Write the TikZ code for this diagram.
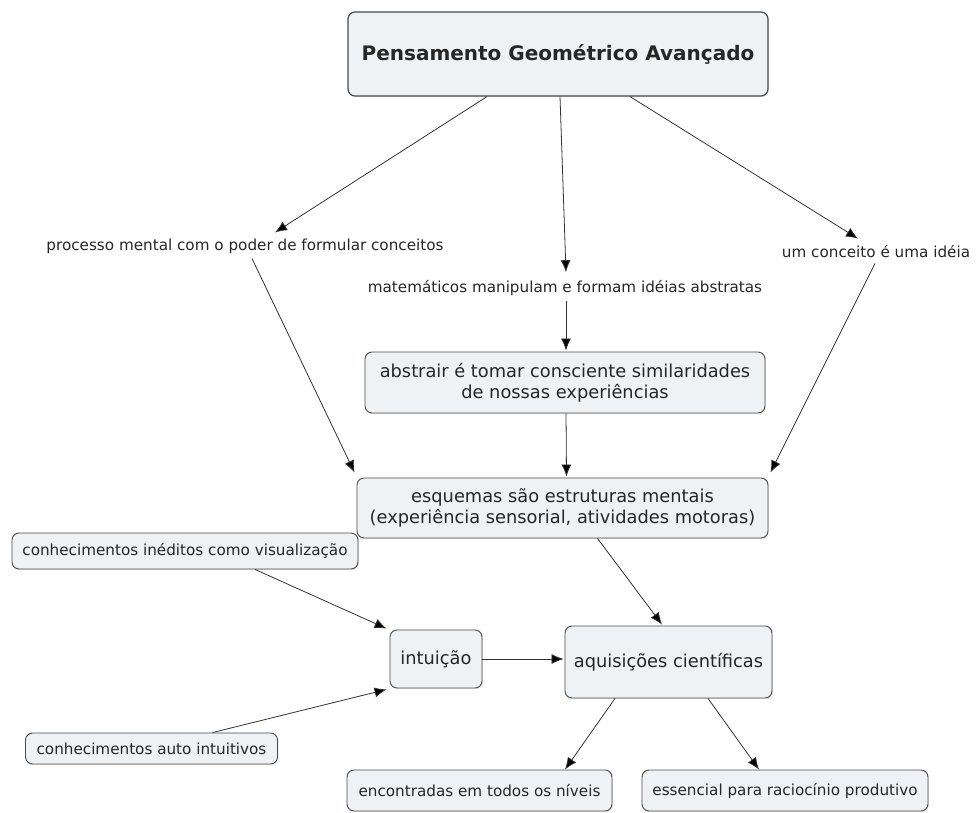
\documentclass[tikz,border=0pt]{standalone}
\usepackage{fontspec}
\setmainfont{DejaVu Sans}
\usetikzlibrary{arrows.meta,shadows}
\definecolor{boxfill}{HTML}{EEF2F5}
\definecolor{boxline}{HTML}{4A4A4A}
\definecolor{txt}{HTML}{262626}
\begin{document}
\begin{tikzpicture}[x=1pt,y=-1pt,
  cbox/.style={draw=boxline,line width=0.9pt,fill=boxfill,rounded corners=7pt,
    align=center,text=txt,inner sep=0pt,
    drop shadow={opacity=0.18,shadow xshift=1.2pt,shadow yshift=-1.2pt}},
  bigtxt/.style={font=\fontsize{17.8}{21.5}\selectfont},
  smalltxt/.style={font=\fontsize{15.2}{18}\selectfont},
  lbl/.style={text=txt,inner sep=5pt,font=\fontsize{15.2}{18}\selectfont},
  arr/.style={draw=black!80,line width=0.8pt,-{Latex[length=12pt,width=10pt,fill=black]}}]
\useasboundingbox[fill=white] (0,0) rectangle (978,813);

% nodes
\node[cbox,minimum width=420pt,minimum height=84pt,
  font=\fontsize{20}{24}\selectfont\bfseries,line width=1.2pt] (top) at (558,54)
  {Pensamento Geométrico Avançado};
\node[lbl] (lab1) at (245,246) {processo mental com o poder de formular conceitos};
\node[lbl] (lab2) at (565,288) {matemáticos manipulam e formam idéias abstratas};
\node[lbl] (lab3) at (876,252) {um conceito é uma idéia};
\node[cbox,bigtxt,minimum width=400pt,minimum height=61pt] (abs) at (565,382.5)
  {abstrair é tomar consciente similaridades\\de nossas experiências};
\node[cbox,bigtxt,minimum width=411pt,minimum height=60pt] (esq) at (562.5,508)
  {esquemas são estruturas mentais\\(experiência sensorial, atividades motoras)};
\node[cbox,smalltxt,minimum width=346pt,minimum height=36pt] (ined) at (185,551)
  {conhecimentos inéditos como visualização};
\node[cbox,bigtxt,minimum width=92pt,minimum height=58pt] (intu) at (436,659)
  {intuição};
\node[cbox,bigtxt,minimum width=207pt,minimum height=72pt] (aqui) at (668.5,662)
  {aquisições científicas};
\node[cbox,smalltxt,minimum width=252pt,minimum height=31pt] (auto) at (151.5,748.5)
  {conhecimentos auto intuitivos};
\node[cbox,smalltxt,minimum width=265pt,minimum height=41pt] (enc) at (479.5,790.5)
  {encontradas em todos os níveis};
\node[cbox,smalltxt,minimum width=286pt,minimum height=41pt] (ess) at (785,790.5)
  {essencial para raciocínio produtivo};

% connectors
\draw[arr] ([xshift=-71pt]top.south) -- ([xshift=30pt,yshift=1pt]lab1.north);
\draw[arr] ([xshift=2pt]top.south) -- ([xshift=1pt,yshift=3pt]lab2.north);
\draw[arr] ([xshift=72pt]top.south) -- ([xshift=-18pt,yshift=2pt]lab3.north);
\draw[arr] ([xshift=1pt]lab2.south) -- ([xshift=1pt,yshift=1pt]abs.north);
\draw[arr] ([xshift=1pt]abs.south) -- ([xshift=4pt,yshift=1pt]esq.north);
\draw[arr] ([xshift=7pt]lab1.south) -- ([xshift=-2pt,yshift=5pt]esq.north west);
\draw[arr] ([xshift=-1pt]lab3.south) -- ([xshift=2pt,yshift=5pt]esq.north east);
\draw[arr] ([xshift=35pt]esq.south) -- ([xshift=-6.5pt,yshift=1pt]aqui.north);
\draw[arr] ([xshift=70pt]ined.south) -- ([xshift=-3pt,yshift=1pt]intu.north west);
\draw[arr] ([xshift=61pt]auto.north) -- ([xshift=-3pt,yshift=-1pt]intu.south west);
\draw[arr] (intu.east) -- ([xshift=-1pt]intu.east -| aqui.west);
\draw[arr] ([xshift=-53.5pt]aqui.south) -- ([xshift=85.5pt]enc.north);
\draw[arr] ([xshift=39.5pt]aqui.south) -- ([xshift=-26pt]ess.north);
\end{tikzpicture}
\end{document}
